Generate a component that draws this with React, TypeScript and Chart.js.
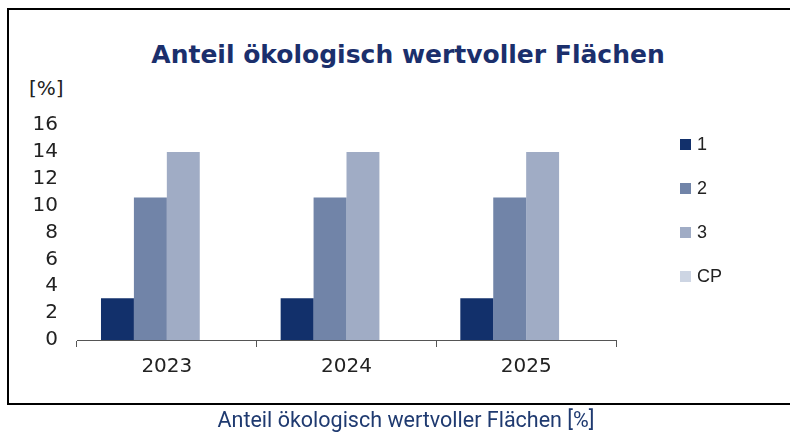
import React, { useEffect, useRef } from "react";
import { Chart, registerables } from "chart.js";

Chart.register(...registerables);

const categories = ["2023", "2024", "2025"];
const seriesLabels = ["1", "2", "3", "CP"];
const series1 = [3.1, 3.1, 3.1];
const series2 = [10.6, 10.6, 10.6];
const series3 = [14, 14, 14];
const seriesCP: (number | null)[] = [null, null, null];
const seriesColors = ["#12306b", "#7184a8", "#a0acc5", "#cdd5e3"];
const yTicks = [0, 2, 4, 6, 8, 10, 12, 14, 16];

const titleText = "Anteil ökologisch wertvoller Flächen";
const unitText = "[%]";
const captionText = "Anteil ökologisch wertvoller Flächen [%]";

const TICK_FONT = "DejaVu Sans";

const legendPlugin = {
  id: "sideLegend",
  afterDraw(chart: any) {
    const ctx = chart.ctx;
    const area = chart.chartArea;
    const x = area.right + 64;
    const y0 = area.top + 19;
    ctx.save();
    ctx.font = "18px Liberation Sans";
    ctx.textBaseline = "middle";
    ctx.textAlign = "left";
    chart.data.datasets.forEach((ds: any, i: number) => {
      const y = y0 + i * 44;
      ctx.fillStyle = ds.backgroundColor;
      ctx.fillRect(x, y - 5, 11, 11);
      ctx.fillStyle = "#222";
      ctx.fillText(ds.label, x + 17, y + 1);
    });
    ctx.restore();
  },
};

export default function App() {
  const ref = useRef<HTMLCanvasElement | null>(null);
  useEffect(() => {
    document.body.style.margin = "0";
    Chart.defaults.font.family = TICK_FONT;
    const data = [series1, series2, series3, seriesCP];
    const chart = new Chart(ref.current!, {
      type: "bar",
      data: {
        labels: categories,
        datasets: seriesLabels.map((l, i) => ({
          label: l,
          data: data[i],
          backgroundColor: seriesColors[i],
          borderWidth: 0,
          barPercentage: 1,
          categoryPercentage: 0.733,
        })),
      },
      options: {
        animation: false,
        responsive: false,
        devicePixelRatio: 1,
        layout: { padding: { top: 125, right: 174, left: 0, bottom: 0 } },
        plugins: {
          legend: { display: false },
          title: { display: false },
          tooltip: { enabled: false },
        },
        scales: {
          x: {
            offset: true,
            grid: {
              display: true,
              offset: true,
              drawOnChartArea: false,
              drawTicks: true,
              tickLength: 7,
              color: "#555",
            },
            border: { display: true, color: "#555", width: 1 },
            ticks: {
              color: "#222",
              padding: 8,
              autoSkip: false,
              font: { family: TICK_FONT, size: 20 },
            },
            afterFit(scale: any) {
              scale.height = 92;
            },
          },
          y: {
            min: 0,
            max: 16,
            grid: { display: false, drawTicks: false },
            border: { display: false },
            afterBuildTicks(scale: any) {
              scale.ticks = yTicks.map((v) => ({ value: v }));
            },
            ticks: {
              color: "#222",
              padding: 19,
              autoSkip: false,
              font: { family: TICK_FONT, size: 20 },
            },
            afterFit(scale: any) {
              scale.width = 77;
            },
          },
        },
      },
      plugins: [legendPlugin],
    });
    return () => chart.destroy();
  }, []);

  return (
    <div style={{ position: "relative", width: 790, height: 432, overflow: "hidden", background: "#fff" }}>
      <div
        style={{
          position: "absolute",
          left: 7,
          top: 8,
          width: 800,
          height: 397,
          border: "2px solid #000",
          boxSizing: "border-box",
        }}
      />
      <div
        style={{
          position: "absolute",
          left: 0,
          width: 816,
          top: 39,
          textAlign: "center",
          font: "bold 25px 'DejaVu Sans', sans-serif",
          color: "#1b2f6c",
          lineHeight: "32px",
          whiteSpace: "nowrap",
        }}
      >
        {titleText}
      </div>
      <div
        style={{
          position: "absolute",
          left: 29,
          top: 76,
          font: "20px 'DejaVu Sans', sans-serif",
          color: "#222",
          lineHeight: "24px",
        }}
      >
        {unitText}
      </div>
      <canvas ref={ref} width={790} height={432} style={{ position: "absolute", left: 0, top: 0 }} />
      <div
        style={{
          position: "absolute",
          left: 0,
          width: 812,
          top: 407,
          textAlign: "center",
          font: "21.5px Roboto, sans-serif",
          color: "#1f3a70",
          lineHeight: "26px",
          whiteSpace: "nowrap",
        }}
      >
        {captionText}
      </div>
    </div>
  );
}
